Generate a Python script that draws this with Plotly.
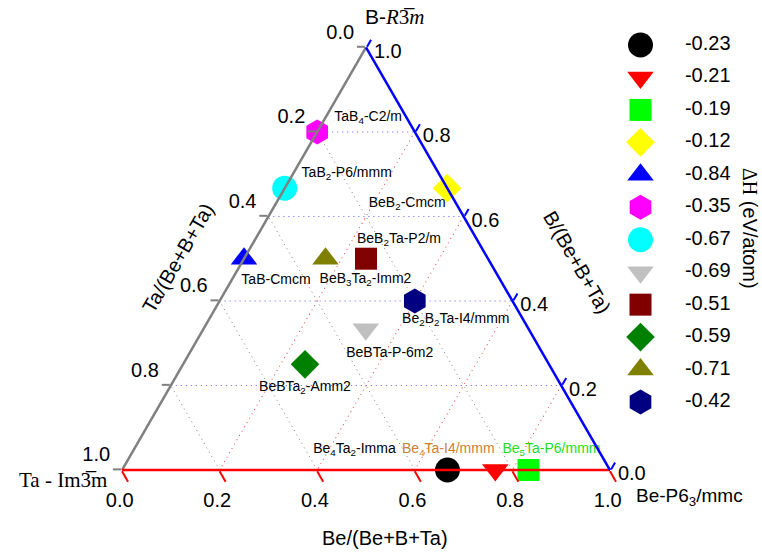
import plotly.graph_objects as go

# ---------------- data ----------------
compounds = ["Be<sub>4</sub>Ta<sub>2</sub>-Imma", "Be<sub>4</sub>Ta-I4/mmm", "Be<sub>5</sub>Ta-P6/mmm",
             "BeB<sub>2</sub>-Cmcm", "TaB-Cmcm", "TaB<sub>4</sub>-C2/m", "TaB<sub>2</sub>-P6/mmm",
             "BeBTa-P-6m2", "BeB<sub>2</sub>Ta-P2/m", "BeBTa<sub>2</sub>-Amm2",
             "BeB<sub>3</sub>Ta<sub>2</sub>-Imm2", "Be<sub>2</sub>B<sub>2</sub>Ta-I4/mmm"]
delta_h = [-0.23, -0.21, -0.19, -0.12, -0.84, -0.35, -0.67, -0.69, -0.51, -0.59, -0.71, -0.42]
frac_be = [0.667, 0.765, 0.833, 0.333, 0.0, 0.0, 0.0, 0.333, 0.25, 0.25, 0.167, 0.4]
frac_b = [0.0, 0.0, 0.0, 0.667, 0.5, 0.8, 0.667, 0.333, 0.5, 0.25, 0.5, 0.4]
frac_ta = [0.333, 0.235, 0.167, 0.0, 0.5, 0.2, 0.333, 0.334, 0.25, 0.5, 0.333, 0.2]
tick_vals = [0.0, 0.2, 0.4, 0.6, 0.8, 1.0]
tick_labels = ["1.0", "0.8", "0.6", "0.4", "0.2", "0.0"]

# ---------------- styles ----------------
colors = ["#000000", "#ff0000", "#00ff00", "#ffff00", "#0000ff", "#ff00ff",
          "#00ffff", "#c0c0c0", "#800000", "#008000", "#808000", "#000080"]
symbols = ["circle", "triangle-down", "square", "diamond", "triangle-up", "hexagon",
           "circle", "triangle-down", "square", "diamond", "triangle-up", "hexagon"]
sizes = [25, 23, 22, 22, 23, 25, 25, 23, 22, 22, 23, 25]
text_colors = ["#000000", "#cd7f32", "#22dd22"] + ["#000000"] * 9
# label offsets from each marker, in screen pixels (dx right, dy down)
label_dx = [-93, -47, 23, -40, 32, 51, 62, 24, 33, 0, 40, 41]
label_dy = [-20, -20, -20, 15, 22, -14, -15, 24, -19, 23, 21, 19]
SIDE_PX = 488.0                    # triangle side length on screen
HEIGHT_PX = SIDE_PX * 3 ** 0.5 / 2

SANS = "Liberation Sans, Arial, sans-serif"
SERIF = "Liberation Serif, Times New Roman, serif"

# label anchor positions in ternary units (marker position + pixel offset)
lab_b, lab_be, lab_ta = [], [], []
for bb, be, ta, dx, dy in zip(frac_b, frac_be, frac_ta, label_dx, label_dy):
    d_b = -dy / HEIGHT_PX
    d_be = (dx - d_b * SIDE_PX / 2) / SIDE_PX
    lab_b.append(bb + d_b)
    lab_be.append(be + d_be)
    lab_ta.append(ta - d_b - d_be)

fig = go.Figure()

fig.add_trace(go.Scatterternary(
    a=frac_b, b=frac_ta, c=frac_be,
    mode="markers",
    marker=dict(symbol=symbols, color=colors, size=sizes, opacity=1, line=dict(width=0)),
    showlegend=False, cliponaxis=False, hoverinfo="skip",
))
fig.add_trace(go.Scatterternary(
    a=lab_b, b=lab_ta, c=lab_be,
    mode="text", text=compounds, textposition="middle center",
    textfont=dict(family=SANS, size=14, color=text_colors),
    showlegend=False, cliponaxis=False, hoverinfo="skip",
))

# manual legend (markers + values)
idx = list(range(len(delta_h)))
fig.add_trace(go.Scatter(
    x=[0.25] * len(idx), y=idx, mode="markers",
    marker=dict(symbol=symbols, color=colors, size=sizes, opacity=1, line=dict(width=0)),
    xaxis="x2", yaxis="y2", showlegend=False, cliponaxis=False, hoverinfo="skip",
))
fig.add_trace(go.Scatter(
    x=[0.665] * len(idx), y=idx, mode="text",
    text=[f"{v:.2f}" for v in delta_h], textposition="middle center",
    textfont=dict(family=SANS, size=20, color="black"),
    xaxis="x2", yaxis="y2", showlegend=False, cliponaxis=False, hoverinfo="skip",
))

def tern_axis(linecolor, gridcolor, texts, ticklen=8):
    return dict(
        min=0, tickmode="array", tickvals=tick_vals, ticktext=texts,
        tickfont=dict(family=SANS, size=20, color="black"),
        linecolor=linecolor, linewidth=2.5, showline=True,
        ticks="outside", ticklen=ticklen, tickwidth=2, tickcolor=linecolor,
        showgrid=True, gridcolor=gridcolor, gridwidth=1, griddash="1px,4px",
        title=dict(text=""),
    )

fig.update_layout(
    width=762, height=552,
    margin=dict(l=0, r=0, t=0, b=0),
    paper_bgcolor="white", plot_bgcolor="white",
    ternary=dict(
        sum=1,
        domain=dict(x=[0.16010, 0.80052], y=[0.14855, 0.91413]),
        bgcolor="white",
        aaxis=tern_axis("#808080", "#6060ff", [t + "<br> " for t in tick_labels]),
        baxis=tern_axis("#ff0000", "#808080", [t + "\u00a0\u00a0\u00a0" for t in tick_labels], ticklen=12),
        caxis=tern_axis("#0000ff", "#ff4040", [" <br>" + t for t in tick_labels]),
    ),
    xaxis2=dict(domain=[0.7874, 1.0], range=[0, 1], visible=False, fixedrange=True),
    yaxis2=dict(domain=[0.24234, 0.94788], range=[11.5, -0.5], visible=False, fixedrange=True),
    showlegend=False,
)

W, H = 762.0, 552.0
def ann(text, px, py, size=20, family=SANS, angle=0):
    fig.add_annotation(text=text, x=px / W, y=1 - py / H, xref="paper", yref="paper",
                       showarrow=False, textangle=angle, xanchor="center", yanchor="middle",
                       font=dict(family=family, size=size, color="black"))

ann("B-<span style='font-family:Liberation Serif'><i>R</i>3\u0305<i>m</i></span>", 395, 17, size=21)
ann("Ta - Im3\u0305m", 63, 480, size=21, family=SERIF)
ann("Be-P6<sub>3</sub>/mmc", 689, 497, size=19)
ann("Ta/(Be+B+Ta)", 178, 258, size=20, angle=-60)
ann("B/(Be+B+Ta)", 577, 262, size=20, angle=60)
ann("Be/(Be+B+Ta)", 385, 538, size=20)
ann("<span style='font-family:Liberation Serif'>\u0394H</span> (eV/atom)", 750, 228, size=20, angle=90)

fig.write_html("out.html")
